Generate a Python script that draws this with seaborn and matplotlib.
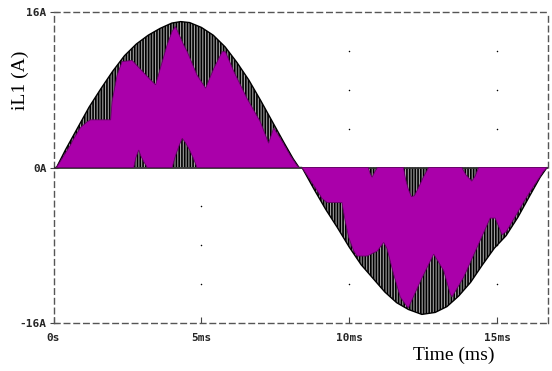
import numpy as np
import matplotlib
matplotlib.use("Agg")
import matplotlib.pyplot as plt
import seaborn as sns

sns.set_theme(style="white")
plt.rcParams['font.family'] = ['DejaVu Sans']
plt.rcParams['hatch.linewidth'] = 1.2

# envelope of the switched inductor current (ms, A)
env_t = [0.0, 0.1, 0.4, 0.8, 1.2, 1.6, 2.0, 2.4, 2.8, 3.2, 3.6, 4.0, 4.3, 4.6, 5.0,
         5.4, 5.8, 6.2, 6.6, 7.0, 7.4, 7.8, 8.1, 8.3, 8.4, 8.8, 9.2, 9.6, 10.0,
         10.4, 10.8, 11.2, 11.6, 12.0, 12.45, 12.9, 13.3, 13.7, 14.1, 14.5, 14.9,
         15.3, 15.7, 16.1, 16.45, 16.68]
env_i = [0.0, 0.0, 1.8, 4.0, 6.2, 8.1, 9.9, 11.5, 12.7, 13.6, 14.3, 14.85, 15.0, 14.9, 14.4,
         13.6, 12.4, 10.8, 9.0, 6.9, 4.7, 2.5, 0.9, 0.0, 0.0, -2.2, -4.3, -6.2, -8.2,
         -10.0, -11.4, -12.8, -13.9, -14.6, -15.1, -14.9, -14.3, -13.2, -11.8, -10.0, -8.3,
         -7.0, -5.1, -2.9, -1.0, 0.0]

# magenta trace, positive half: upper outline and lower outline
pos_top_t = [0.1, 0.57, 0.69, 0.91, 1.14, 1.25, 1.93, 1.98, 2.15, 2.32, 2.66, 3.0, 3.28,
             3.45, 3.61, 3.84, 4.01, 4.12, 4.40, 4.52, 4.85, 5.14, 5.42, 5.70, 5.81,
             6.09, 6.54, 6.99, 7.27, 7.44, 7.67, 8.01, 8.23, 8.3]
pos_top_i = [0.0, 2.3, 3.0, 4.1, 4.7, 4.9, 4.9, 6.8, 9.5, 10.9, 11.0, 9.9, 9.0,
             8.5, 10.2, 12.6, 14.0, 14.5, 12.6, 11.9, 9.5, 8.15, 10.2, 11.9, 11.9,
             9.9, 7.1, 4.7, 2.5, 4.05, 3.0, 1.2, 0.2, 0.0]
pos_low_t = [0.1, 2.71, 2.78, 2.88, 2.95, 3.05, 3.17, 4.01, 4.12, 4.25, 4.35, 4.45,
             4.60, 4.72, 4.85, 8.3]
pos_low_i = [0.0, 0.0, 1.0, 1.8, 1.2, 0.6, 0.0, 0.0, 1.2, 2.3, 3.0, 2.6,
             1.8, 1.0, 0.0, 0.0]

# magenta trace, negative half: upper outline and lower outline
neg_up_t = [8.40, 10.64, 10.70, 10.77, 10.85, 10.95, 11.83, 11.90, 12.0, 12.1, 12.2,
            12.35, 12.5, 12.68, 13.80, 13.95, 14.14, 14.25, 14.37, 16.68]
neg_up_i = [0.0, 0.0, -0.6, -1.0, -0.5, 0.0, 0.0, -1.2, -2.3, -3.0, -2.9,
            -2.0, -1.0, 0.0, 0.0, -0.8, -1.4, -0.9, 0.0, 0.0]
neg_low_t = [8.40, 8.96, 9.08, 9.25, 9.75, 9.86, 9.98, 10.15, 10.26, 10.60, 10.94, 11.16,
             11.27, 11.50, 11.72, 11.95, 12.0, 12.40, 12.85, 13.19, 13.41, 13.47, 13.86,
             14.31, 14.76, 14.93, 15.16, 15.30, 15.44, 16.0, 16.56, 16.68]
neg_low_i = [0.0, -2.6, -3.2, -3.6, -3.6, -5.5, -7.2, -8.6, -9.1, -9.1, -8.6, -7.7,
             -8.3, -11.0, -13.3, -14.3, -14.4, -11.7, -8.9, -10.6, -13.0, -13.3, -11.3,
             -8.26, -5.2, -5.2, -6.9, -6.6, -5.9, -3.0, -0.4, 0.0]

grid_t = [5, 10, 15]
grid_i = [-12, -8, -4, 4, 8, 12]

fig = plt.figure(figsize=(5.52, 3.71), dpi=100)
ax = fig.add_axes([0.097, 0.129, 0.896, 0.839])

gt, gi = np.meshgrid(grid_t, grid_i)
ax.scatter(gt.ravel(), gi.ravel(), s=1.2, color='black', zorder=1, linewidths=0)

# switching ripple: hatched band between zero and envelope
ax.fill_between(env_t, 0, env_i, facecolor='#a0a0a0', edgecolor='black',
                hatch='||||||', linewidth=0, zorder=2)
sns.lineplot(x=env_t, y=env_i, color='black', linewidth=1.0, sort=False,
             ax=ax, zorder=3)
ax.axhline(0, color='#333333', linewidth=1.3, zorder=3)

pos_x = pos_top_t + pos_low_t[::-1]
pos_y = pos_top_i + pos_low_i[::-1]
neg_x = neg_up_t + neg_low_t[::-1]
neg_y = neg_up_i + neg_low_i[::-1]
ax.fill(pos_x, pos_y, color='#aa00aa', linewidth=0.6, edgecolor='#6a006a', zorder=4)
ax.fill(neg_x, neg_y, color='#aa00aa', linewidth=0.6, edgecolor='#6a006a', zorder=4)

ax.set_xlim(0, 16.72)
ax.set_ylim(-16, 16)
ax.set_xticks([0, 5, 10, 15])
ax.set_xticklabels(['0s', '5ms', '10ms', '15ms'])
ax.set_yticks([-16, 0, 16])
ax.set_yticklabels(['-16A', '0A', '16A'])
for lab in ax.get_xticklabels() + ax.get_yticklabels():
    lab.set_fontfamily('DejaVu Sans Mono')
    lab.set_fontweight('bold')
    lab.set_fontsize(8)
ax.tick_params(axis='y', direction='inout', length=6, width=0.8, color='#444444', pad=2)
ax.tick_params(axis='x', direction='in', length=4, width=0.8, color='#444444', pad=7)
ax.tick_params(left=True, bottom=True)

for side in ['top', 'bottom', 'left', 'right']:
    ax.spines[side].set_linestyle((0, (4, 3)))
    ax.spines[side].set_color('#555555')
    ax.spines[side].set_linewidth(1.0)

ax.set_ylabel('iL1 (A)', family='Liberation Serif', fontsize=14, color='black')
ax.yaxis.set_label_coords(-0.05, 0.78)
ax.set_xlabel('Time (ms)', family='Liberation Serif', fontsize=14, color='black')
ax.xaxis.set_label_coords(0.81, -0.075)

fig.savefig('out.png', dpi=100)
